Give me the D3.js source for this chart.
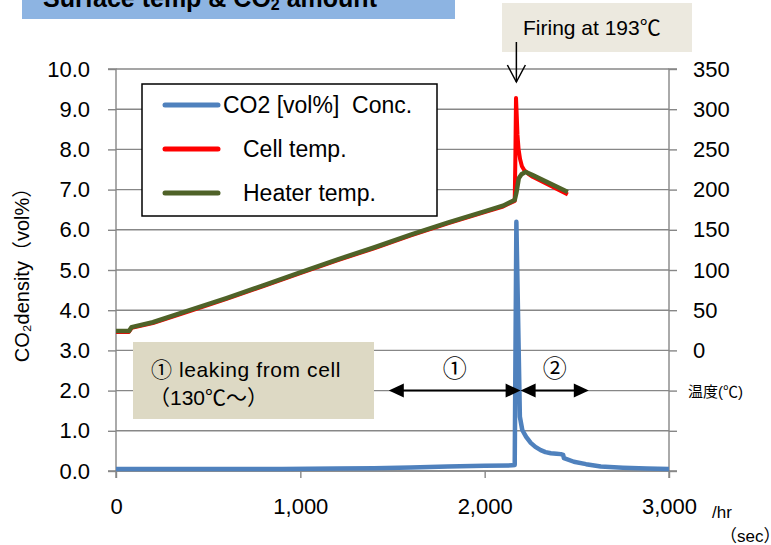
<!DOCTYPE html>
<html><head><meta charset="utf-8">
<script src="https://cdn.jsdelivr.net/npm/d3@7"></script>
<style>
body{margin:0;background:#fff;}
text{font-family:"Liberation Sans","Noto Sans CJK JP",sans-serif;fill:#000;}
</style></head>
<body><svg id="c" width="771" height="545"></svg>
<script>
// ---- data ----
const xTicks = [0, 1000, 2000, 3000];
const leftTicks = [0,1,2,3,4,5,6,7,8,9,10];
const rightTicks = [-150,-100,-50,0,50,100,150,200,250,300,350];

const co2Times  = [0, 300, 600, 900, 1200, 1400, 1600, 1800, 2000, 2150, 2163, 2172, 2191, 2204, 2225, 2250, 2275, 2304, 2330, 2359, 2390, 2413, 2426, 2430, 2484, 2550, 2630, 2750, 2880, 3000];
const co2Values = [0.05, 0.05, 0.05, 0.05, 0.06, 0.07, 0.09, 0.11, 0.13, 0.14, 0.15, 6.2, 1.35, 1.02, 0.85, 0.70, 0.60, 0.52, 0.47, 0.44, 0.43, 0.42, 0.40, 0.32, 0.23, 0.17, 0.11, 0.08, 0.06, 0.05];

const cellTimes = [0, 70, 85, 200, 400, 600, 800, 1000, 1200, 1400, 1600, 1800, 2000, 2100, 2163, 2166, 2170, 2174, 2178, 2184, 2192, 2202, 2215, 2235, 2260, 2451];
const cellTemps = [23, 23, 28, 34, 49, 64, 80, 96, 112, 127, 143, 158, 172, 179, 186, 230, 314, 292, 268, 250, 238, 229, 224, 220, 216, 194];

const heaterTimes = [0, 70, 85, 200, 400, 600, 800, 1000, 1200, 1400, 1600, 1800, 2000, 2100, 2163, 2172, 2185, 2200, 2223, 2260, 2451];
const heaterTemps = [24, 24, 29, 35, 50, 65, 81, 97, 113, 128, 144, 159, 173, 180, 187, 196, 214, 219, 222, 218, 197];

const firingTime = 2172;
const phase1 = [1480, 2195];
const phase2 = [2195, 2565];
const arrowLevel = 2.0;

// ---- chart ----
const svg = d3.select("#c");
const x = d3.scaleLinear([0, 3000], [116, 669]);
const yL = d3.scaleLinear([0, 10], [471, 69]);
const yR = d3.scaleLinear([-150, 350], [471, 69]);
const grey = "#878787";

// title box
svg.append("rect").attr("x",22).attr("y",0).attr("width",433).attr("height",19).attr("fill","#8DB4E2");
const tt = svg.append("text").attr("x",43).attr("y",7).attr("font-size",25).attr("font-weight","bold");
tt.append("tspan").text("Surface temp & CO");
tt.append("tspan").attr("font-size",16).attr("dy",3).text("2");
tt.append("tspan").attr("dy",-3).text(" amount");

// gridlines
svg.append("g").selectAll("line").data(leftTicks).join("line")
  .attr("x1", x(0)).attr("x2", x(3000))
  .attr("y1", d=>yL(d)).attr("y2", d=>yL(d))
  .attr("stroke", grey).attr("stroke-width",1.4);

// axes
const gL = svg.append("g").attr("transform",`translate(${x(0)},0)`)
  .call(d3.axisLeft(yL).tickValues(leftTicks).tickFormat(d3.format(".1f")).tickSize(8).tickPadding(18));
const gR = svg.append("g").attr("transform",`translate(${x(3000)},0)`)
  .call(d3.axisRight(yR).tickValues(rightTicks).tickFormat(d => d >= 0 ? d : "").tickSize(8).tickPadding(16));
const gB = svg.append("g").attr("transform",`translate(0,${yL(0)})`)
  .call(d3.axisBottom(x).tickValues(xTicks).tickFormat(d3.format(",")).tickSize(7).tickPadding(20));
[gL,gR,gB].forEach(g=>{
  g.select(".domain").attr("stroke",grey).attr("stroke-width",1.4);
  g.selectAll(".tick line").attr("stroke",grey).attr("stroke-width",1.4);
  g.selectAll(".tick text").attr("font-size",22).attr("font-family","Liberation Sans, sans-serif").attr("fill","#000");
});
gL.select(".domain").attr("d", `M-8,${yL(10)}H0V${yL(0)}H-8`);
gR.select(".domain").attr("d", `M8,${yL(10)}H0V${yL(0)}H8`);
gB.select(".domain").attr("d", `M${x(0)},7V0H${x(3000)}V7`);

// lines
const lineT = d3.line().x(d=>x(d[0])).y(d=>yR(d[1]));
const lineC = d3.line().x(d=>x(d[0])).y(d=>yL(d[1]));
svg.append("path").datum(d3.zip(cellTimes, cellTemps)).attr("d", lineT)
  .attr("fill","none").attr("stroke","#FF0000").attr("stroke-width",4).attr("stroke-linejoin","round");
svg.append("path").datum(d3.zip(heaterTimes, heaterTemps)).attr("d", lineT)
  .attr("fill","none").attr("stroke","#4F6228").attr("stroke-width",4.5).attr("stroke-linejoin","round");
svg.append("path").datum(d3.zip(co2Times, co2Values)).attr("d", lineC)
  .attr("fill","none").attr("stroke","#4F81BD").attr("stroke-width",4.5).attr("stroke-linejoin","round");

// axis titles
svg.append("text").attr("transform",`translate(29,${(yL(0)+yL(10))/2}) rotate(-90)`)
  .attr("text-anchor","middle").attr("font-size",20)
  .text("CO₂density（vol%）");
svg.append("text").attr("x",688).attr("y",yR(-50)+6).attr("font-size",15)
  .attr("font-family","Noto Sans CJK JP, sans-serif").text("温度(℃)");
svg.append("text").attr("x",712).attr("y",518).attr("font-size",17).text("/hr");
svg.append("text").attr("x",720).attr("y",542).attr("font-size",17)
  .attr("font-family","Noto Sans CJK JP, sans-serif").text("（sec）");

// legend
const lg = svg.append("g");
lg.append("rect").attr("x",142).attr("y",84).attr("width",295).attr("height",132)
  .attr("fill","#fff").attr("stroke","#000").attr("stroke-width",1.5);
const legendItems = [
  {label:"CO2 [vol%]  Conc.", color:"#4F81BD", tx:223, y:105},
  {label:"Cell temp.", color:"#FF0000", tx:243, y:149},
  {label:"Heater temp.", color:"#4F6228", tx:243, y:193}
];
legendItems.forEach(it=>{
  lg.append("line").attr("x1",165).attr("x2",218).attr("y1",it.y).attr("y2",it.y)
    .attr("stroke",it.color).attr("stroke-width",5).attr("stroke-linecap","round");
  lg.append("text").attr("x",it.tx).attr("y",it.y+8).attr("font-size",23).attr("xml:space","preserve").text(it.label);
});

// firing annotation
svg.append("rect").attr("x",502).attr("y",3).attr("width",190).attr("height",49).attr("fill","#ECE9DF");
svg.append("text").attr("x",523).attr("y",35).attr("font-size",21).text("Firing at 193℃");
const ax = x(firingTime);
svg.append("line").attr("x1",ax).attr("x2",ax).attr("y1",42).attr("y2",82).attr("stroke","#000").attr("stroke-width",1.5);
svg.append("path").attr("d",`M${ax-9},65L${ax},82L${ax+9},65`).attr("fill","none").attr("stroke","#000").attr("stroke-width",1.5);

// leaking box
svg.append("rect").attr("x",133).attr("y",342).attr("width",241).attr("height",77).attr("fill","#DDD9C4");
svg.append("text").attr("x",151).attr("y",377).attr("font-size",21).attr("letter-spacing",0.6).text("① leaking from cell");
svg.append("text").attr("x",149).attr("y",405).attr("font-size",21)
  .attr("font-family","Noto Sans CJK JP, sans-serif").text("（130℃～）");

// phase arrows
const ay = yL(arrowLevel);
function dblArrow(a,b){
  const x1=x(a), x2=x(b);
  svg.append("line").attr("x1",x1+10).attr("x2",x2-10).attr("y1",ay).attr("y2",ay).attr("stroke","#000").attr("stroke-width",2);
  svg.append("path").attr("d",`M${x1},${ay}L${x1+15},${ay-7}L${x1+15},${ay+7}Z`).attr("fill","#000");
  svg.append("path").attr("d",`M${x2},${ay}L${x2-15},${ay-7}L${x2-15},${ay+7}Z`).attr("fill","#000");
}
dblArrow(phase1[0], phase1[1]);
dblArrow(phase2[0], phase2[1]);
svg.append("text").attr("x",(x(phase1[0])+x(phase1[1]))/2).attr("y",ay-14).attr("text-anchor","middle")
  .attr("font-size",24).attr("font-family","Noto Sans CJK JP, sans-serif").text("①");
svg.append("text").attr("x",(x(phase2[0])+x(phase2[1]))/2).attr("y",ay-14).attr("text-anchor","middle")
  .attr("font-size",24).attr("font-family","Noto Sans CJK JP, sans-serif").text("②");
</script></body></html>
